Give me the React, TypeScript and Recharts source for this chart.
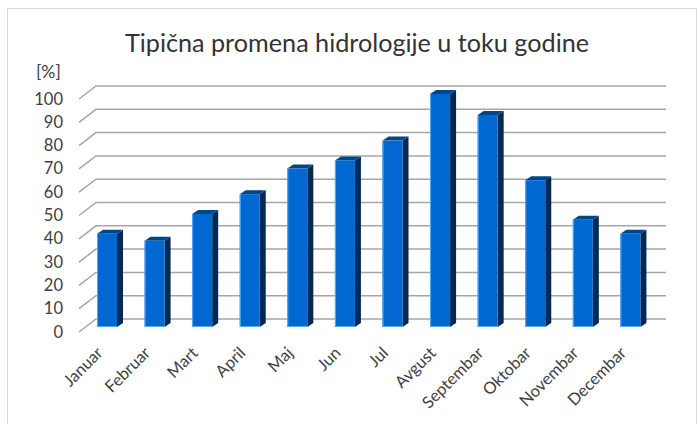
import { BarChart, Bar, XAxis, YAxis, CartesianGrid } from "recharts";

const months = [
  "Januar",
  "Februar",
  "Mart",
  "April",
  "Maj",
  "Jun",
  "Jul",
  "Avgust",
  "Septembar",
  "Oktobar",
  "Novembar",
  "Decembar",
];
const hydrology = [40, 37, 48.5, 57, 68, 71.5, 80, 100, 91, 63, 46, 40];
const yTicks = [0, 10, 20, 30, 40, 50, 60, 70, 80, 90, 100];

const data = months.map((m, i) => ({ month: m, value: hydrology[i] }));

const FONT = "Lato, 'Open Sans', sans-serif";
const TEXT = "#404040";

// 3D offsets (front of floor -> bar plane -> back wall)
const DEPTH = { frontX: -4, frontY: 5, backX: 13, backY: -8, rightX: 12 };
const BAR_DX = 6;
const BAR_DY = 4;

function WallLine(props: any) {
  const { x1, x2, y1 } = props;
  const d = `M${x1 + DEPTH.frontX},${y1 + DEPTH.frontY} L${x1 + DEPTH.backX},${y1 + DEPTH.backY} L${x2 + DEPTH.rightX},${y1 + DEPTH.backY}`;
  return <path d={d} fill="none" stroke="#a6a6a6" strokeWidth={1.5} />;
}

function Bar3D(props: any) {
  const { x, y, width, height } = props;
  if (!height || height <= 0) return null;
  const top = `M${x},${y} L${x + BAR_DX},${y - BAR_DY} L${x + width + BAR_DX},${y - BAR_DY} L${x + width},${y} Z`;
  const side = `M${x + width},${y} L${x + width + BAR_DX},${y - BAR_DY} L${x + width + BAR_DX},${y + height - BAR_DY} L${x + width},${y + height} Z`;
  return (
    <g>
      <path d={side} fill="#002a52" />
      <path d={top} fill="#004585" />
      <rect x={x} y={y} width={width} height={height} fill="#0068d0" />
      <path
        d={`M${x + 0.5},${y} L${x + 0.5},${y + height - 0.5} L${x + width},${y + height - 0.5}`}
        fill="none"
        stroke="#55adff"
        strokeWidth={1}
      />
    </g>
  );
}

function YTick(props: any) {
  const { y, payload } = props;
  return (
    <text x={63} y={y + DEPTH.frontY + 5.5} textAnchor="end" fontSize={16.5} fill={TEXT} fontFamily={FONT}>
      {payload.value}
    </text>
  );
}

function XTick(props: any) {
  const { x, payload } = props;
  const tx = x - 3;
  const ty = 354;
  return (
    <text
      x={tx}
      y={ty}
      textAnchor="end"
      fontSize={16.5}
      fill={TEXT}
      fontFamily={FONT}
      transform={`rotate(-45 ${tx} ${ty})`}
    >
      {payload.value}
    </text>
  );
}

export default function App() {
  return (
    <div style={{ position: "absolute", left: 0, top: 0, width: 700, height: 424, background: "#fff" }}>
      <svg width={700} height={424} style={{ position: "absolute", left: 0, top: 0 }}>
        <rect x={7.5} y={8.5} width={689} height={430} fill="#fff" stroke="#d9d9d9" strokeWidth={1} />
        <text x={357} y={52} textAnchor="middle" fontSize={25.2} fill="#333" fontFamily={FONT}>
          Tipična promena hidrologije u toku godine
        </text>
        <text x={36} y={78} fontSize={17.5} fill={TEXT} fontFamily={FONT}>
          [%]
        </text>
      </svg>
      <div style={{ position: "absolute", left: 0, top: 0 }}>
        <BarChart
          width={700}
          height={424}
          data={data}
          margin={{ top: 94, right: 46, bottom: 0, left: 43 }}
          barSize={20}
        >
          <CartesianGrid vertical={false} horizontal={(p: any) => <WallLine key={p.key} {...p} />} />
          <XAxis
            dataKey="month"
            axisLine={false}
            tickLine={false}
            interval={0}
            height={97}
            tick={<XTick />}
          />
          <YAxis
            domain={[0, 100]}
            ticks={yTicks}
            axisLine={false}
            tickLine={false}
            width={40}
            tick={<YTick />}
          />
          <Bar dataKey="value" shape={<Bar3D />} isAnimationActive={false} />
        </BarChart>
      </div>
    </div>
  );
}
